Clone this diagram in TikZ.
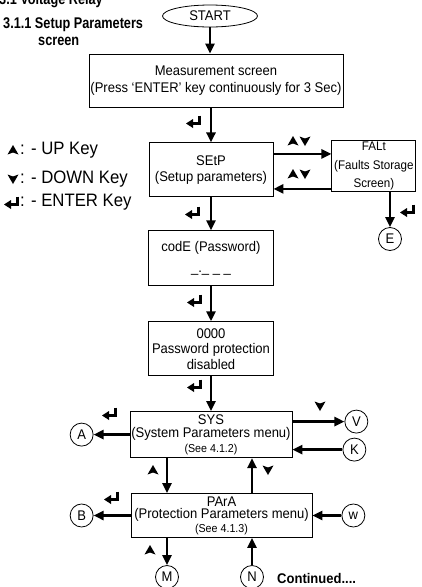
\documentclass[tikz,border=0pt]{standalone}
\usepackage{fontspec}
\setmainfont{Liberation Sans}[FakeStretch=0.93]
\newfontfamily\titlefont{Liberation Sans}[FakeStretch=0.82]
\usetikzlibrary{arrows.meta, positioning, shapes.geometric}

\tikzset{
    enterkey/.pic={
        \draw[line width=3.2pt] (5.5,5.5) -- (5.5,-2.5) -- (-2,-2.5);
        \fill (-1,2) -- (-8,-2.5) -- (-1,-7) -- cycle;
    },
    upkey/.pic={\fill (0,5) -- (5.5,-4.5) -- (0,-2.5) -- (-5.5,-4.5) -- cycle;},
    downkey/.pic={\fill (0,-5) -- (5.5,4.5) -- (0,2.5) -- (-5.5,4.5) -- cycle;},
    updown/.pic={\pic at (-6,0) {upkey}; \pic at (6,0) {downkey};}
}

\begin{document}
\begin{tikzpicture}[
    x=1pt, y=1pt,
    box/.style={rectangle, draw, line width=0.9pt, align=center, inner sep=1pt, font=\fontsize{14}{16.5}\selectfont},
    startnode/.style={ellipse, draw, line width=0.8pt, minimum width=95pt, minimum height=22pt, inner sep=0pt, font=\fontsize{14}{16}\selectfont},
    conn/.style={circle, draw, line width=0.8pt, inner sep=0pt, minimum size=23pt, font=\fontsize{14}{16}\selectfont},
    legend/.style={anchor=west, inner sep=1pt, font=\fontsize{18}{20}\selectfont},
    heading/.style={anchor=base west, inner sep=0pt, align=left, font=\titlefont\bfseries\fontsize{15.5}{17}\selectfont},
    arr/.style={line width=2.8pt, -{Triangle[length=10pt,width=9pt]}}
    ]
    \useasboundingbox (0,0) rectangle (421,-587);

    % headings
    \node[heading] (section) at (-1,-4) {3.1 Voltage Relay};
    \node[heading] (subsection) at (3,-45) {3.1.1 Setup Parameters\\\hspace*{35pt}screen};

    % main column
    \node[startnode] (start) at (210,-16) {START};
    \node[box, minimum width=254pt, minimum height=53pt] (meas) at (216,-80.5) {Measurement screen\\(Press ‘ENTER’ key continuously for 3 Sec)};
    \node[box, minimum width=124pt, minimum height=54pt, below=35pt of meas, xshift=-5pt] (setp) {SEtP\\(Setup parameters)};
    \node[box, font=\fontsize{12.5}{18.5}\selectfont, minimum width=84pt, minimum height=51pt, right=58pt of setp, yshift=3.5pt] (falt) {FALt\\(Faults Storage\\Screen)};
    \node[box, minimum width=125pt, minimum height=55pt, below=33pt of setp] (code) {codE (Password)\\[4pt]\_.\_ \_ \_};
    \node[box, font=\fontsize{14}{15.5}\selectfont, minimum width=125pt, minimum height=54pt, below=35pt of code] (pw) {0000\\Password protection\\disabled};
    \node[box, minimum width=162pt, minimum height=46pt, below=35pt of pw] (sys) {SYS\\[-3pt](System Parameters menu)\\[-2pt]{\fontsize{11.5}{13}\selectfont (See 4.1.2)}};
    \node[box, minimum width=181pt, minimum height=44pt, below=35pt of sys, xshift=10.5pt] (para) {PArA\\[-4pt](Protection Parameters menu)\\[-3pt]{\fontsize{11.5}{13}\selectfont (See 4.1.3)}};

    % connectors
    \node[conn] (E) at (390,-239) {E};
    \node[conn, left=36pt of sys] (A) {A};
    \node[conn, right=52pt of sys, yshift=13pt] (V) {V};
    \node[conn, right=50pt of sys, yshift=-15pt] (K) {K};
    \node[conn, left=37pt of para] (B) {B};
    \node[conn, right=29pt of para] (w) {w};
    \node[conn] (M) at (167,-577) {M};
    \node[conn] (N) at (252,-577) {N};

    % legend
    \pic at (13,-150) {upkey};
    \node[legend] (upk) at (19,-150) {: - UP Key};
    \pic at (13,-179) {downkey};
    \node[legend] (downk) at (19,-179) {: - DOWN Key};
    \pic at (12,-202) {enterkey};
    \node[legend] (enterk) at (19,-202) {: - ENTER Key};

    \node[anchor=west, inner sep=0pt, font=\bfseries\fontsize{14}{16}\selectfont] (cont) at (277,-578) {Continued....};

    % arrows
    \draw[arr] (start) -- (start |- meas.north);
    \draw[arr] (meas.south -| setp) -- (setp);
    \draw[arr] ([yshift=16pt]setp.east) -- ([yshift=16pt]setp.east -| falt.west);
    \draw[arr] ([yshift=-19pt]setp.east -| falt.west) -- ([yshift=-19pt]setp.east);
    \draw[arr] (falt.south -| E) -- (E);
    \draw[arr] (setp) -- (code);
    \draw[arr] (code) -- (pw);
    \draw[arr] (pw) -- (sys);
    \draw[arr] (sys) -- (A);
    \draw[arr] (sys.east |- V) -- (V);
    \draw[arr] (K) -- (sys.east |- K);
    \draw[arr] (sys.south -| M) -- (para.north -| M);
    \draw[arr] (para.north -| N) -- (sys.south -| N);
    \draw[arr] (para) -- (B);
    \draw[arr] (w) -- (para);
    \draw[arr] (para.south -| M) -- (M);
    \draw[arr] (N) -- (para.south -| N);

    % key labels
    \pic at (299,-141) {updown};
    \pic at (299,-174) {updown};
    \pic at (320,-406) {downkey};
    \pic at (153,-470) {upkey};
    \pic at (268,-470) {downkey};
    \pic at (150,-550) {upkey};
    \pic at (194,-121) {enterkey};
    \pic at (193,-212) {enterkey};
    \pic at (195,-300) {enterkey};
    \pic at (195,-385) {enterkey};
    \pic at (408,-210) {enterkey};
    \pic at (110,-413) {enterkey};
    \pic at (112,-497) {enterkey};
\end{tikzpicture}
\end{document}
